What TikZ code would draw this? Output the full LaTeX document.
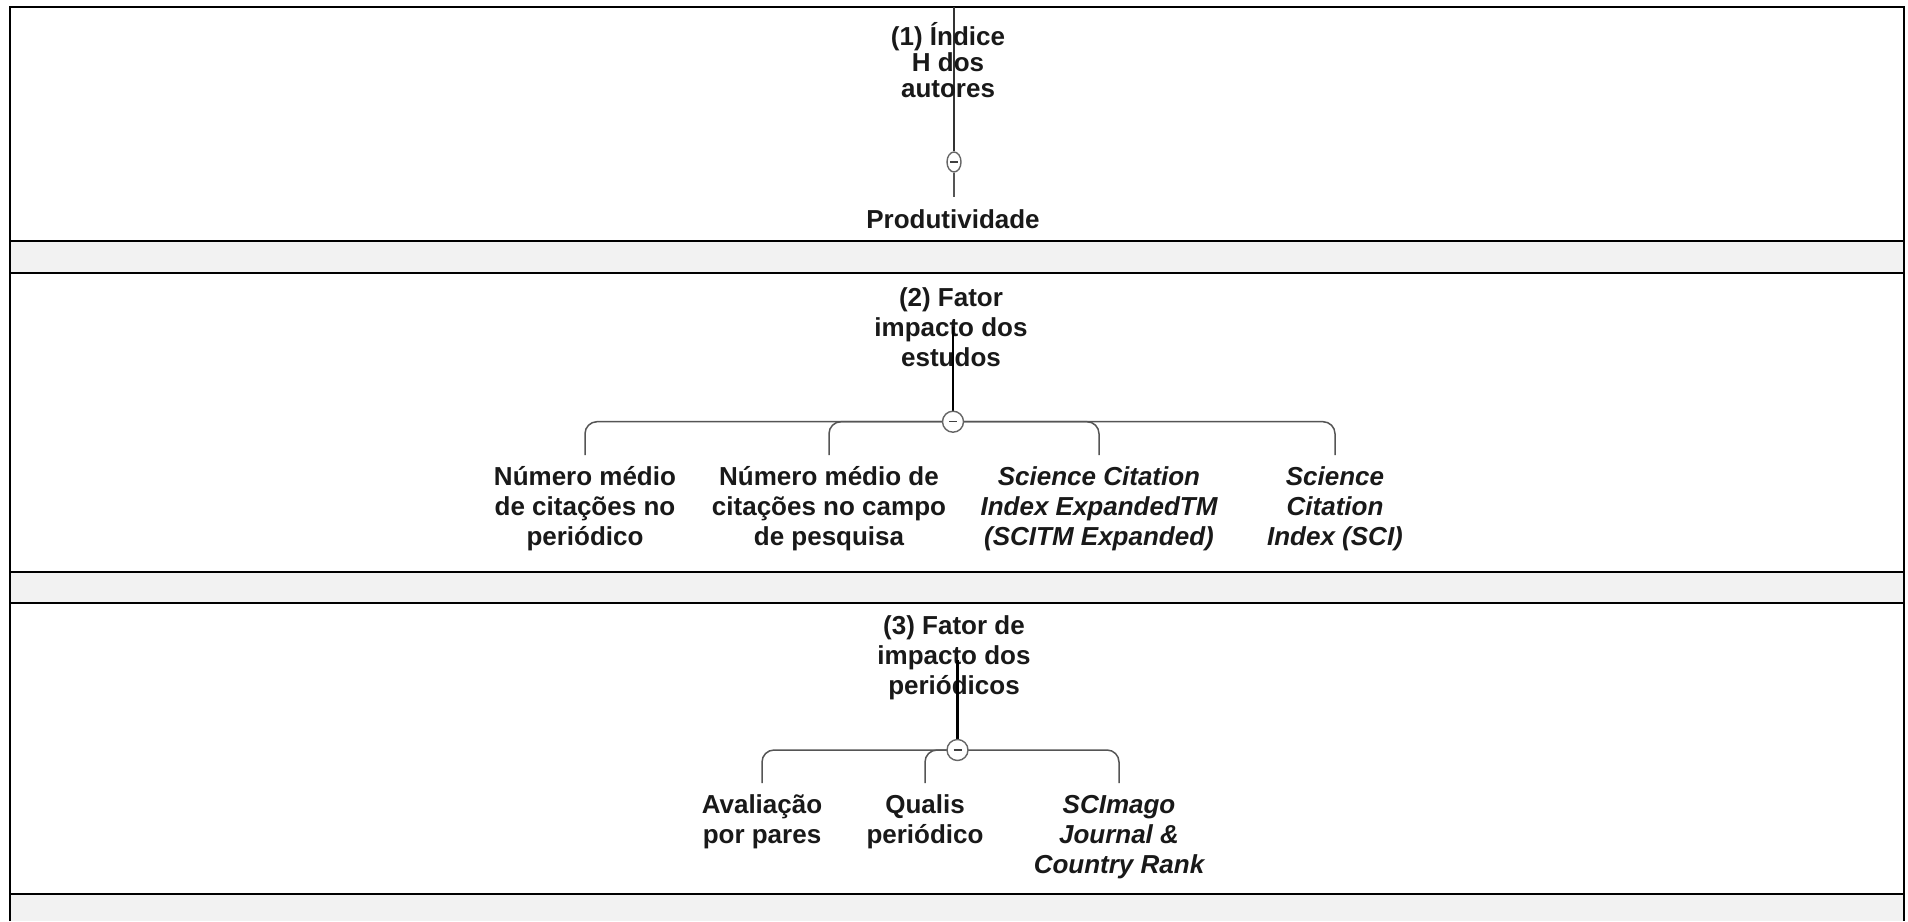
\documentclass[tikz,border=0pt]{standalone}
\usepackage{fontspec}
\setmainfont{Liberation Sans}
\usetikzlibrary{shapes.geometric}
\definecolor{bandc}{HTML}{F2F2F2}
\definecolor{linec}{HTML}{555555}
\begin{document}
\begin{tikzpicture}[x=1pt,y=-1pt,
  txt/.style={font=\fontsize{26}{30}\selectfont\bfseries, align=center, inner sep=0pt, text=black!90},
  itx/.style={txt, font=\fontsize{26}{30}\selectfont\bfseries\itshape},
  conn/.style={draw=linec, line width=1.5pt, rounded corners=12pt},
  stem/.style={draw=black, line width=2.6pt},
  thinstem/.style={draw=black!80, line width=1.4pt},
  minus/.style={path picture={\draw[black!75, line width=1.4pt]
      ([xshift=-4pt]path picture bounding box.center) -- ([xshift=4pt]path picture bounding box.center);}},
  knob/.style={circle, draw=black!60, fill=white, line width=1.4pt, minimum size=21pt, inner sep=0pt, minus},
  knobv/.style={ellipse, draw=black!60, fill=white, line width=1.4pt, minimum width=14pt, minimum height=20pt, inner sep=0pt, minus},
  frame/.style={draw=black, line width=2pt}]
\useasboundingbox (0,0) rectangle (1908,921);
\fill[white] (0,0) rectangle (1908,921);
% grey bands
\fill[bandc] (10,240.7) rectangle (1904,272.7);
\fill[bandc] (10,571.7) rectangle (1904,602.7);
\fill[bandc] (10,894) rectangle (1904,921);
% frame
\draw[frame] (10,921) -- (10,7) -- (1904,7) -- (1904,921);
\draw[frame] (10,240.7) -- (1904,240.7);
\draw[frame] (10,272.7) -- (1904,272.7);
\draw[frame] (10,571.7) -- (1904,571.7);
\draw[frame] (10,602.7) -- (1904,602.7);
\draw[frame] (10,894) -- (1904,894);

% ---------- panel 1 ----------
\coordinate (t1) at (954,7);
\coordinate (b1) at (0,197);
\node[knobv] (k1) at (954,162) {};
\node[txt] (q1) at (953,219) {Produtividade};
\draw[thinstem] (t1) -- (k1);
\draw[conn] (k1) -- (k1 |- b1);
\node[txt, font=\fontsize{26}{26}\selectfont\bfseries] (p1) at (948,60) {(1) Índice\\H dos\\autores};

% ---------- panel 2 ----------
\node[txt] (p2) at (951,327) {(2) Fator\\impacto dos\\estudos};
\coordinate (s2) at (953,327);
\coordinate (b2) at (0,455);
\node[txt] (c21) at (585,509) {Número médio\\de citações no\\periódico};
\node[txt] (c22) at (829,509) {Número médio de\\citações no campo\\de pesquisa};
\node[itx] (c23) at (1099,509) {Science Citation\\Index ExpandedTM\\(SCITM Expanded)};
\node[itx] (c24) at (1335,509) {Science\\Citation\\Index (SCI)};
\coordinate (k2c) at (953,421.7);
\draw[conn] (k2c) -| (c21 |- b2);
\draw[conn] (k2c) -| (c22 |- b2);
\draw[conn] (k2c) -| (c23 |- b2);
\draw[conn] (k2c) -| (c24 |- b2);
\draw[stem] (s2) -- (k2c);
\node[knob] (k2) at (k2c) {};

% ---------- panel 3 ----------
\node[txt] (p3) at (954,658) {(3) Fator de\\impacto dos\\periódicos};
\coordinate (s3) at (957.5,660);
\coordinate (b3) at (0,783);
\node[txt] (c31) at (762,822) {Avaliação\\por pares};
\node[txt] (c32) at (925,822) {Qualis\\periódico};
\node[itx] (c33) at (1119,837) {SCImago\\Journal \&\\Country Rank};
\coordinate (k3c) at (957.5,750);
\draw[conn] (k3c) -| (c31 |- b3);
\draw[conn] (k3c) -| (c32 |- b3);
\draw[conn] (k3c) -| (c33 |- b3);
\draw[stem] (s3) -- (k3c);
\node[knob] (k3) at (k3c) {};
\end{tikzpicture}
\end{document}
